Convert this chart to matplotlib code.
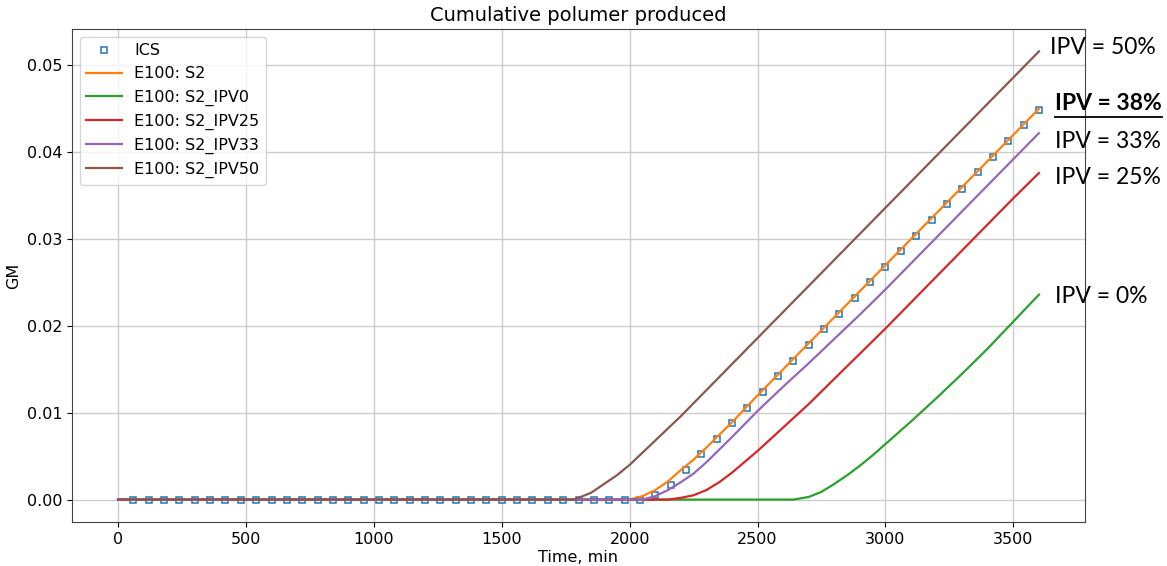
import matplotlib
matplotlib.use("Agg")
import matplotlib.pyplot as plt
from matplotlib.lines import Line2D

# === Data ===
ics_time = [60, 120, 180, 240, 300, 360, 420, 480, 540, 600,
            660, 720, 780, 840, 900, 960, 1020, 1080, 1140, 1200,
            1260, 1320, 1380, 1440, 1500, 1560, 1620, 1680, 1740, 1800,
            1860, 1920, 1980, 2040, 2100, 2160, 2220, 2280, 2340, 2400,
            2460, 2520, 2580, 2640, 2700, 2760, 2820, 2880, 2940, 3000,
            3060, 3120, 3180, 3240, 3300, 3360, 3420, 3480, 3540, 3600]
ics_gm = [0, 0, 0, 0, 0, 0, 0, 0, 0, 0,
          0, 0, 0, 0, 0, 0, 0, 0, 0, 0,
          0, 0, 0, 0, 0, 0, 0, 0, 0, 0,
          0, 0, 0, 0, 0.0005, 0.0017, 0.0034, 0.0052, 0.0070, 0.0088,
          0.0106, 0.0124, 0.0142, 0.0160, 0.0178, 0.0196, 0.0214, 0.0232, 0.0250, 0.0268,
          0.0286, 0.0304, 0.0322, 0.0340, 0.0358, 0.0377, 0.0395, 0.0413, 0.0431, 0.0449]

s2_time = [0, 2000, 2050, 2100, 2150, 2200, 2250, 2300, 2400, 2500, 2600, 2700,
           2800, 2900, 3000, 3100, 3200, 3300, 3400, 3500, 3600]
s2_gm = [0, 0, 0.0004, 0.0011, 0.0021, 0.0034, 0.0046, 0.0060, 0.0089, 0.0120, 0.0150, 0.0180,
         0.0210, 0.0240, 0.0270, 0.0300, 0.0330, 0.0360, 0.0390, 0.0420, 0.0450]

ipv0_time = [0, 2640, 2700, 2750, 2800, 2850, 2900, 2950, 3000, 3100, 3200, 3300, 3400, 3500, 3600]
ipv0_gm = [0, 0, 0.0003, 0.0009, 0.0018, 0.0028, 0.0039, 0.0051, 0.0064, 0.0090, 0.0117, 0.0145,
           0.0174, 0.0205, 0.0236]

ipv25_time = [0, 2150, 2200, 2250, 2300, 2350, 2400, 2500, 2600, 2700, 2800, 2900, 3000,
              3100, 3200, 3300, 3400, 3500, 3600]
ipv25_gm = [0, 0, 0.0002, 0.0005, 0.0011, 0.0020, 0.0031, 0.0056, 0.0083, 0.0110, 0.0139, 0.0168,
            0.0197, 0.0227, 0.0257, 0.0287, 0.0317, 0.0347, 0.0376]

ipv33_time = [0, 2050, 2100, 2150, 2200, 2250, 2300, 2400, 2500, 2600, 2700, 2800, 2900, 3000,
              3100, 3200, 3300, 3400, 3500, 3600]
ipv33_gm = [0, 0, 0.0004, 0.0011, 0.0020, 0.0030, 0.0043, 0.0072, 0.0102, 0.0130, 0.0157, 0.0185,
            0.0213, 0.0242, 0.0272, 0.0302, 0.0332, 0.0362, 0.0392, 0.0422]

ipv50_time = [0, 1780, 1800, 1850, 1900, 1950, 2000, 2100, 2200, 2300, 2400, 2500, 2600, 2700,
              2800, 2900, 3000, 3100, 3200, 3300, 3400, 3500, 3600]
ipv50_gm = [0, 0, 0.0002, 0.0008, 0.0018, 0.0028, 0.0040, 0.0068, 0.0096, 0.0126, 0.0156, 0.0186,
            0.0216, 0.0246, 0.0276, 0.0306, 0.0336, 0.0366, 0.0396, 0.0426, 0.0456, 0.0486, 0.0516]

# label text, left x (px), centre y (px), bold
ipv_labels = ["IPV = 50%", "IPV = 38%", "IPV = 33%", "IPV = 25%", "IPV = 0%"]
ipv_label_x = [1050, 1055, 1055, 1055, 1055]
ipv_label_y = [47, 104, 141, 177, 296]
ipv_label_bold = [False, True, False, False, False]

# === Plot ===
W, H = 1167, 566
fig = plt.figure(figsize=(W / 100, H / 100), dpi=100)
ax = fig.add_axes([72 / W, 1 - 522 / H, (1085 - 72) / W, (522 - 29) / H])

ax.plot(ics_time, ics_gm, linestyle="none", marker="s", markersize=5,
        markerfacecolor="none", markeredgecolor="tab:blue", markeredgewidth=1.1, label="ICS")
ax.plot(s2_time, s2_gm, color="tab:orange", lw=1.6, label="E100: S2")
ax.plot(ipv0_time, ipv0_gm, color="tab:green", lw=1.6, label="E100: S2_IPV0")
ax.plot(ipv25_time, ipv25_gm, color="tab:red", lw=1.6, label="E100: S2_IPV25")
ax.plot(ipv33_time, ipv33_gm, color="tab:purple", lw=1.6, label="E100: S2_IPV33")
ax.plot(ipv50_time, ipv50_gm, color="tab:brown", lw=1.6, label="E100: S2_IPV50")

ax.set_title("Cumulative polumer produced", fontsize=14)
ax.set_xlabel("Time, min", fontsize=11.5, labelpad=2)
ax.set_ylabel("GM", fontsize=11.5)
ax.tick_params(labelsize=11.5)
ax.grid(True, color="#cccccc", lw=1)
ax.set_axisbelow(True)
for sp in ax.spines.values():
    sp.set_color("#444444")
ax.legend(loc="upper left", fontsize=11.5, handlelength=2.2, labelspacing=0.5)

# === IPV annotations on the right ===
for txt, px, py, bold in zip(ipv_labels, ipv_label_x, ipv_label_y, ipv_label_bold):
    t = fig.text(px / W, 1 - py / H, txt, fontsize=16.5, family="Lato",
                 fontweight="bold" if bold else "normal", ha="left", va="center")
    if bold:
        fig.canvas.draw()
        bb = t.get_window_extent()
        fig.add_artist(Line2D([bb.x0 / W, bb.x1 / W], [1 - 117 / H, 1 - 117 / H],
                              transform=fig.transFigure, color="black", lw=1.3))

fig.savefig("out.png", dpi=100)
